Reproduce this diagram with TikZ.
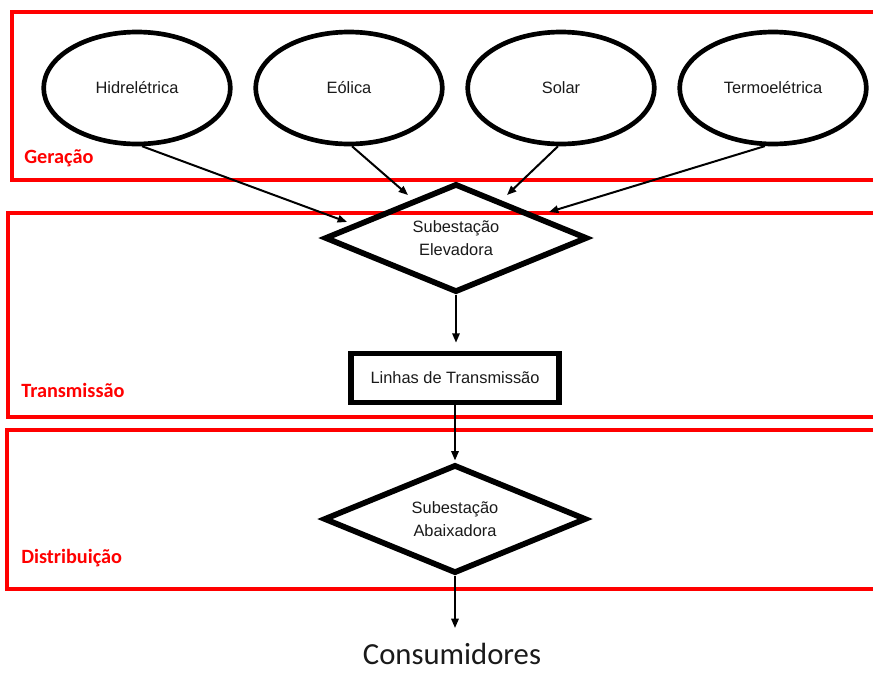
\documentclass[tikz,border=0pt]{standalone}
\usepackage{fontspec}
\setmainfont{Liberation Sans}
\newfontfamily\calib{Carlito}
\usetikzlibrary{shapes.geometric,arrows.meta}
\definecolor{txt}{HTML}{1A1A1A}
\tikzset{
  band/.style={draw=red,line width=2.8pt},
  bandlabel/.style={anchor=west,text=red,font=\calib\bfseries\fontsize{15.2}{18}\selectfont,inner sep=0pt},
  source/.style={ellipse,draw=black,line width=3.5pt,minimum width=140pt,minimum height=84pt,inner sep=0pt,text=txt,font=\fontsize{12.3}{15}\selectfont},
  substation/.style={diamond,draw=black,line width=4.3pt,minimum width=197pt,minimum height=81.5pt,aspect=2.4,inner sep=0pt,align=center,text=txt,font=\fontsize{12.3}{17}\selectfont},
  linebox/.style={rectangle,draw=black,line width=4pt,minimum width=156pt,minimum height=37pt,inner sep=0pt,text=txt,font=\fontsize{12.3}{15}\selectfont},
  arr/.style={draw=black,line width=1.5pt,-{Triangle[length=7pt,width=5.5pt]}}
}
\begin{document}
\begin{tikzpicture}[x=0.75pt,y=-0.75pt]
\useasboundingbox (0,0) rectangle (873,672);
\clip (0,0) rectangle (873,672);
\fill[white] (0,0) rectangle (873,672);
% bands
\draw[band] (880,12) -- (12,12) -- (12,180) -- (880,180);
\draw[band] (880,213) -- (8,213) -- (8,417) -- (880,417);
\draw[band] (880,430) -- (7,430) -- (7,589) -- (880,589);
\node[bandlabel] (lg) at (24,158) {Geração};
\node[bandlabel] (lt) at (21,390) {Transmissão};
\node[bandlabel] (ld) at (21,558) {Distribuição};
% sources
\node[source] (hid) at (137,88) {Hidrelétrica};
\node[source] (eol) at (349,88) {Eólica};
\node[source] (sol) at (561,88) {Solar};
\node[source] (ter) at (773,88) {Termoelétrica};
% flow
\node[substation] (elev) at (456,238) {Subestação\\Elevadora};
\node[linebox] (lin) at (455,378) {Linhas de Transmissão};
\node[substation] (abx) at (455,519) {Subestação\\Abaixadora};
\node[font=\calib\fontsize{23}{27}\selectfont,text=txt,inner sep=0pt] (cons) at (452,654) {Consumidores};
% arrow ends
\coordinate (e1) at (347,222);
\coordinate (e2) at (408,195);
\coordinate (e3) at (507,195);
\coordinate (e4) at (549,212);
\coordinate (e5) at (455,628);
\draw[arr] (hid.-85) -- (e1);
\draw[arr] (eol.-87) -- (e2);
\draw[arr] (sol.-93) -- (e3);
\draw[arr] (ter.-98) -- (e4);
\draw[arr,shorten >=6pt] (elev.south) -- (elev.south |- lin.north);
\draw[arr,shorten >=1pt] (lin.south) -- (abx.north);
\draw[arr] (abx.south) -- (e5);
\end{tikzpicture}
\end{document}
